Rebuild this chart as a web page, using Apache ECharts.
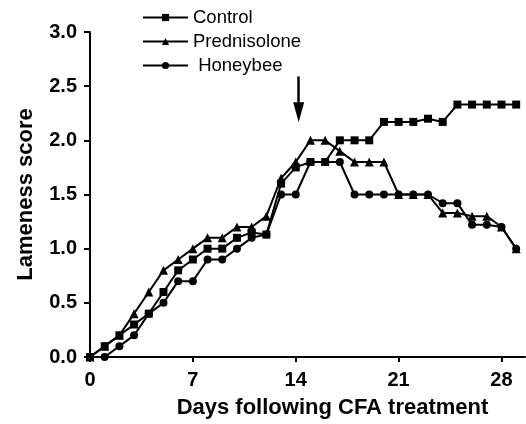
<!DOCTYPE html>
<html>
<head>
<meta charset="utf-8">
<script src="https://cdn.jsdelivr.net/npm/echarts@6/dist/echarts.min.js"></script>
<style>html,body{margin:0;padding:0;background:#fff}#c{width:526px;height:424px}</style>
</head>
<body>
<div id="c"></div>
<script>
const days = [0,1,2,3,4,5,6,7,8,9,10,11,12,13,14,15,16,17,18,19,20,21,22,23,24,25,26,27,28,29];
const control = [0,0.1,0.2,0.3,0.4,0.6,0.8,0.9,1.0,1.0,1.1,1.15,1.13,1.6,1.75,1.8,1.8,2.0,2.0,2.0,2.17,2.17,2.17,2.2,2.17,2.33,2.33,2.33,2.33,2.33];
const prednisolone = [0,0.1,0.2,0.4,0.6,0.8,0.9,1.0,1.1,1.1,1.2,1.2,1.3,1.65,1.8,2.0,2.0,1.9,1.8,1.8,1.8,1.5,1.5,1.5,1.33,1.33,1.3,1.3,1.2,1.0];
const honeybee = [0,0,0.1,0.2,0.4,0.5,0.7,0.7,0.9,0.9,1.0,1.1,1.13,1.5,1.5,1.8,1.8,1.8,1.5,1.5,1.5,1.5,1.5,1.5,1.42,1.42,1.22,1.22,1.2,1.0];
const xTicks = [0,7,14,21,28];
const seriesNames = ['Control','Prednisolone','Honeybee'];
const legendLabels = ['Control','Prednisolone',' Honeybee'];
const arrowDay = 14.2;
const arrowFrom = 2.59, arrowTo = 2.26;

const chart = echarts.init(document.getElementById('c'));
const font = 'Liberation Sans, Arial, sans-serif';
function mk(name, vals, symbol, size) {
  return {
    name: name, type: 'line', data: days.map((d,i)=>[d, vals[i]]),
    symbol: symbol, symbolSize: size, showSymbol: true,
    lineStyle: {color:'#000', width:2}, itemStyle: {color:'#000'},
    animation: false, z: 3
  };
}
const s = [
  mk(seriesNames[0], control, 'rect', 8),
  mk(seriesNames[1], prednisolone, 'triangle', 9),
  mk(seriesNames[2], honeybee, 'circle', 8)
];
s[0].markLine = {
  silent: true, symbol: ['none','triangle'], symbolSize: [11, 20],
  lineStyle: {color:'#000', width: 2.5, type:'solid'}, label:{show:false},
  data: [[{coord:[arrowDay, arrowFrom]},{coord:[arrowDay, arrowTo]}]]
};
chart.setOption({
  animation: false,
  backgroundColor: '#fff',
  legend: {
    orient: 'vertical', left: 137, top: 3, itemWidth: 45, itemHeight: 9, itemGap: 5,
    data: seriesNames.map(n=>({name:n})),
    formatter: n => legendLabels[seriesNames.indexOf(n)],
    textStyle: {fontFamily: font, fontSize: 18.5, color:'#000'}
  },
  grid: {left: 90, right: 1, top: 32, bottom: 64},
  xAxis: {
    type: 'value', min: 0, max: 29.6,
    name: 'Days following CFA treatment', nameLocation: 'middle', nameGap: 40,
    nameTextStyle: {fontFamily: font, fontSize: 22, fontWeight: 'bold', color:'#000', padding:[0,0,0,50]},
    axisLine: {show: true, lineStyle: {color:'#000', width: 2}},
    axisTick: {show: true, customValues: xTicks, length: 5, lineStyle:{color:'#000', width: 2}},
    axisLabel: {customValues: xTicks, fontFamily: font, fontSize: 20, fontWeight:'bold', color:'#000', margin: 13},
    splitLine: {show: false}
  },
  yAxis: {
    type: 'value', min: 0, max: 3, interval: 0.5,
    name: 'Lameness score', nameLocation: 'middle', nameGap: 53,
    nameTextStyle: {fontFamily: font, fontSize: 22, fontWeight: 'bold', color:'#000'},
    axisLine: {show: true, lineStyle: {color:'#000', width: 2}},
    axisTick: {show: true, length: 6, lineStyle:{color:'#000', width: 2}},
    axisLabel: {formatter: v => v.toFixed(1), fontFamily: font, fontSize: 20, fontWeight:'bold', color:'#000', margin: 13},
    splitLine: {show: false}
  },
  series: s
});
</script>
</body>
</html>
